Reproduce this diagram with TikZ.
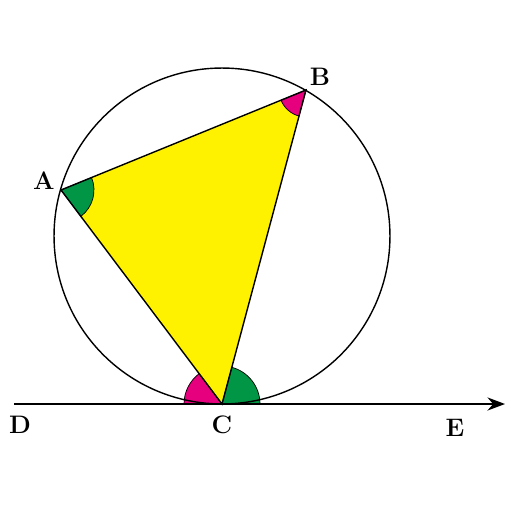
\documentclass[tikz,border=0pt]{standalone}
\usetikzlibrary{arrows.meta}
\definecolor{tri}{RGB}{255,242,0}
\definecolor{gruen}{RGB}{0,150,70}
\definecolor{pink}{RGB}{230,0,126}
\tikzset{
  lbl/.style={font=\bfseries\Large},
  angG/.style={fill=gruen,draw=black,thin},
  angP/.style={fill=pink,draw=black,thin}
}
\begin{document}
\begin{tikzpicture}[x=0.02cm,y=-0.02cm]
\useasboundingbox (0,0) rectangle (521,521);
\coordinate (O) at (222,236);
\coordinate (A) at (61,190);
\coordinate (B) at (306,90);
\coordinate (C) at (222,404);
\coordinate (D) at (14,404);
\coordinate (E) at (505,404);

\fill[tri] (A) -- (B) -- (C) -- cycle;
% angles
\draw[angG] (A) -- ++(-53:0.66cm) arc (-53:22.2:0.66cm) -- cycle;
\draw[angP] (B) -- ++(202.2:0.54cm) arc (202.2:255:0.54cm) -- cycle;
\draw[angP] (C) -- ++(127:0.76cm) arc (127:180:0.76cm) -- cycle;
\draw[angG] (C) -- ++(0:0.76cm) arc (0:75:0.76cm) -- cycle;

\draw[thick] (O) circle (3.36cm);
\draw[thick] (A) -- (B) -- (C) -- cycle;
\draw[thick,-{Stealth[length=10pt]}] (D) -- (E);

\node[lbl] (nA) at (44,181) {A};
\node[lbl] (nB) at (320,77) {B};
\node[lbl] (nC) at (222,425) {C};
\node[lbl] (nD) at (20,425) {D};
\node[lbl] (nE) at (455,428) {E};
\end{tikzpicture}
\end{document}
